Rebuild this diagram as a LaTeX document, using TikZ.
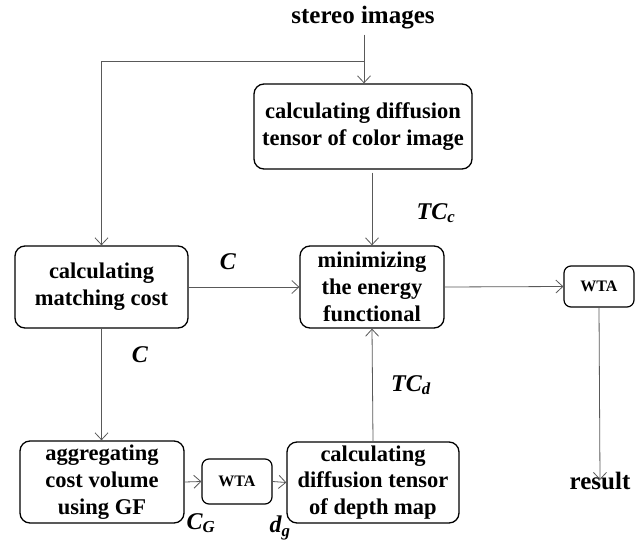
\documentclass[tikz,border=0pt]{standalone}
\usepackage{fontspec}
\setmainfont{Liberation Serif}
\usetikzlibrary{arrows.meta}
\tikzset{
  proc/.style={draw=black, line width=1.3pt, rounded corners=10pt, inner sep=0pt,
    align=center, font=\fontsize{22.5}{26.8}\selectfont\bfseries},
  wta/.style={draw=black, line width=1.2pt, rounded corners=7pt, inner sep=0pt,
    align=center, font=\fontsize{16}{18}\selectfont\bfseries},
  lbl/.style={inner sep=0pt, font=\fontsize{24}{26}\selectfont\bfseries\itshape},
  plain/.style={inner sep=0pt, font=\fontsize{25}{28}\selectfont\bfseries},
  conn/.style={draw=black!65, line width=0.8pt, -{Straight Barb[length=7pt,width=13pt,line width=0.8pt]}}
}
\begin{document}
\begin{tikzpicture}[x=1pt, y=-1pt]
\useasboundingbox (0,0) rectangle (639,543);

% processing blocks
\node[proc, minimum width=218pt, minimum height=85pt] (colortensor) at (363,126.5)
  {calculating diffusion\\tensor of color image};
\node[proc, minimum width=173pt, minimum height=82pt] (matching) at (101.5,287)
  {calculating\\matching cost};
\node[proc, minimum width=144pt, minimum height=82pt] (energy) at (372,287)
  {minimizing\\the energy\\functional};
\node[proc, minimum width=164pt, minimum height=82pt] (aggregate) at (102,482)
  {aggregating\\cost volume\\using GF};
\node[proc, minimum width=172pt, minimum height=81pt] (depthtensor) at (373,482.5)
  {calculating\\diffusion tensor\\of depth map};
\node[wta, minimum width=70pt, minimum height=45pt] (wtaA) at (237,481.5) {WTA};
\node[wta, minimum width=70pt, minimum height=41pt] (wtaB) at (599,286.5) {WTA};

% input and output
\node[plain] (stereo) at (363,18) {stereo images};
\node[plain] (result) at (600,481) {result};

% data labels
\node[lbl] (lC1) at (228,262) {C};
\node[lbl] (lC2) at (140,355) {C};
\node[lbl] (lTCc) at (436,213) {TC\textsubscript{c}};
\node[lbl] (lTCd) at (411,385) {TC\textsubscript{d}};
\node[lbl] (lCG) at (201,523) {C\textsubscript{G}};
\node[lbl] (ldg) at (280,528) {d\textsubscript{g}};

% connectors
\coordinate (split) at (364,61);
\draw[conn] (stereo.south -| split) ++(0,5) -- (split |- colortensor.north);
\draw[conn] (split) -| (matching.north);
\draw[conn, shorten <=3pt] (energy.north |- colortensor.south) -- (energy.north);
\draw[conn] (matching.east) -- (energy.west);
\draw[conn] (energy.east) -- (wtaB.west);
\draw[conn] (wtaB.south) -- ([yshift=-8pt]result.north);
\draw[conn] (matching.south) -- (matching.south |- aggregate.north);
\draw[conn] (aggregate.east) -- (wtaA.west);
\draw[conn] (wtaA.east) -- (depthtensor.west);
\draw[conn] (depthtensor.north) -- (energy.south);
\end{tikzpicture}
\end{document}
